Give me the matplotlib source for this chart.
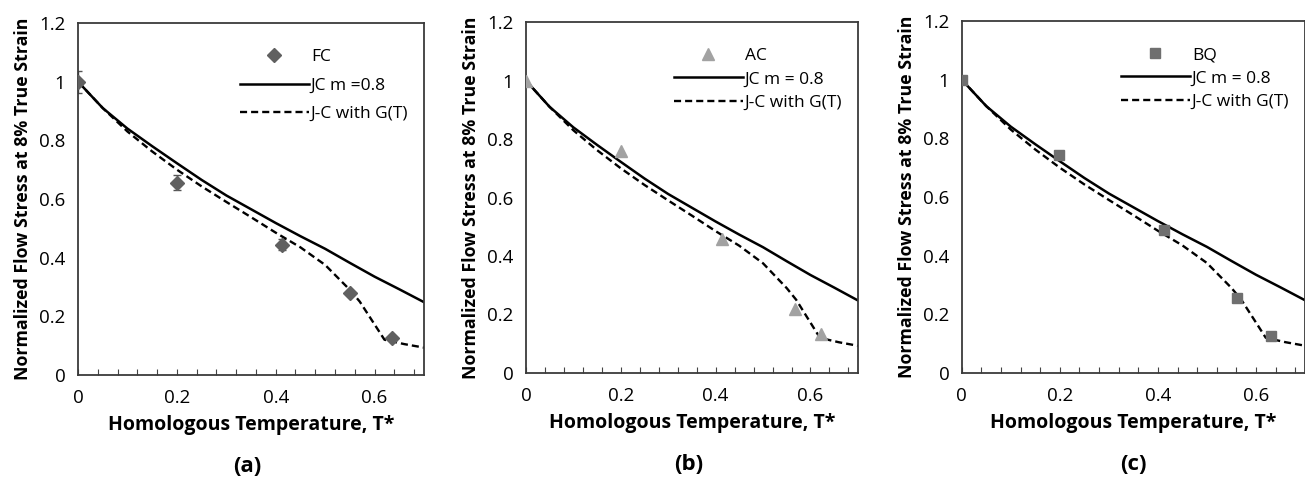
import matplotlib
matplotlib.use("Agg")
import matplotlib.pyplot as plt
from matplotlib.ticker import MultipleLocator

# model curves (same in all three panels)
t_model = [0.0, 0.05, 0.1, 0.15, 0.2, 0.25, 0.3, 0.35, 0.4, 0.45, 0.5, 0.55, 0.6, 0.65, 0.7]
jc_m08 = [1.0, 0.91, 0.84, 0.78, 0.722, 0.665, 0.612, 0.565, 0.518, 0.473, 0.43, 0.382, 0.335, 0.292, 0.248]
t_gt = [0.0, 0.05, 0.1, 0.15, 0.2, 0.25, 0.3, 0.35, 0.4, 0.45, 0.5, 0.55, 0.57, 0.62, 0.66, 0.7]
jc_gt = [1.0, 0.91, 0.83, 0.762, 0.70, 0.643, 0.59, 0.538, 0.485, 0.435, 0.375, 0.29, 0.25, 0.12, 0.105, 0.093]

# experimental points
t_fc = [0.0, 0.2, 0.413, 0.551, 0.636]
s_fc = [1.0, 0.656, 0.444, 0.279, 0.127]
e_fc = [0.038, 0.026, 0.018, 0.0, 0.0]

t_ac = [0.0, 0.201, 0.413, 0.567, 0.622]
s_ac = [1.0, 0.76, 0.457, 0.218, 0.134]

t_bq = [0.0, 0.199, 0.412, 0.562, 0.631]
s_bq = [1.0, 0.742, 0.489, 0.255, 0.127]

panels = [
    dict(rect=[0.0598, 0.219, 0.2651, 0.733], t=t_fc, s=s_fc, err=e_fc,
         label="FC", marker="D", ms=7, color="#606060", jc="JC m =0.8",
         spacing=0.7, tag="(a)", tagx=0.49),
    dict(rect=[0.403, 0.223, 0.2544, 0.731], t=t_ac, s=s_ac, err=None,
         label="AC", marker="^", ms=8, color="#a2a2a2", jc="JC m = 0.8",
         spacing=0.4, tag="(b)", tagx=0.49),
    dict(rect=[0.737, 0.223, 0.2630, 0.733], t=t_bq, s=s_bq, err=None,
         label="BQ", marker="s", ms=7, color="#6f6f6f", jc="JC m = 0.8",
         spacing=0.4, tag="(c)", tagx=0.5),
]

fig = plt.figure(figsize=(13.05, 4.8), dpi=100)
fam = ["Open Sans", "DejaVu Sans"]

for p in panels:
    ax = fig.add_axes(p["rect"])
    if p["err"] is not None:
        ax.errorbar(p["t"], p["s"], yerr=p["err"], fmt="none", ecolor="#555555",
                    elinewidth=1, capsize=3, zorder=2)
    ax.plot(p["t"], p["s"], linestyle="none", marker=p["marker"], ms=p["ms"],
            color=p["color"], mec=p["color"], label=p["label"], zorder=3)
    ax.plot(t_model, jc_m08, color="black", lw=1.8, label=p["jc"], zorder=2)
    ax.plot(t_gt, jc_gt, color="black", lw=1.7, linestyle=(0, (3, 1.7)),
            label="J-C with G(T)", zorder=2)

    ax.set_xlim(0, 0.7)
    ax.set_ylim(0, 1.2)
    ax.xaxis.set_major_locator(MultipleLocator(0.2))
    ax.xaxis.set_minor_locator(MultipleLocator(0.04))
    ax.yaxis.set_major_locator(MultipleLocator(0.2))
    ax.set_xticklabels(["0" if abs(v) < 1e-9 else f"{v:g}" for v in ax.get_xticks()])
    ax.set_yticklabels(["0" if abs(v) < 1e-9 else f"{v:g}" for v in ax.get_yticks()])
    ax.tick_params(axis="x", which="both", direction="in", length=4, width=0.8,
                   colors="#444444", labelcolor="black", labelsize=13.5, pad=10)
    ax.tick_params(axis="y", length=0, labelsize=13.5, pad=9)
    for lbl in ax.get_xticklabels() + ax.get_yticklabels():
        lbl.set_family(fam)
    for sp in ax.spines.values():
        sp.set_color("#3a3a3a")
        sp.set_linewidth(1.3)

    ax.set_xlabel("Homologous Temperature, T*", fontsize=14, labelpad=6,
                  family=fam, fontweight="bold")
    ax.set_ylabel("Normalized Flow Stress at 8% True Strain", fontsize=12.8,
                  labelpad=5, family=fam, fontweight="bold")

    ax.legend(loc="upper right", bbox_to_anchor=(1.0, 0.97), frameon=False,
              handlelength=4.0, handletextpad=0.1, labelspacing=p["spacing"],
              prop={"family": fam, "size": 12.5})

    ax.text(p["tagx"], -0.26, p["tag"], transform=ax.transAxes, ha="center",
            va="center", fontsize=16, fontweight="bold", family=fam)

fig.savefig("out.png", dpi=100)
